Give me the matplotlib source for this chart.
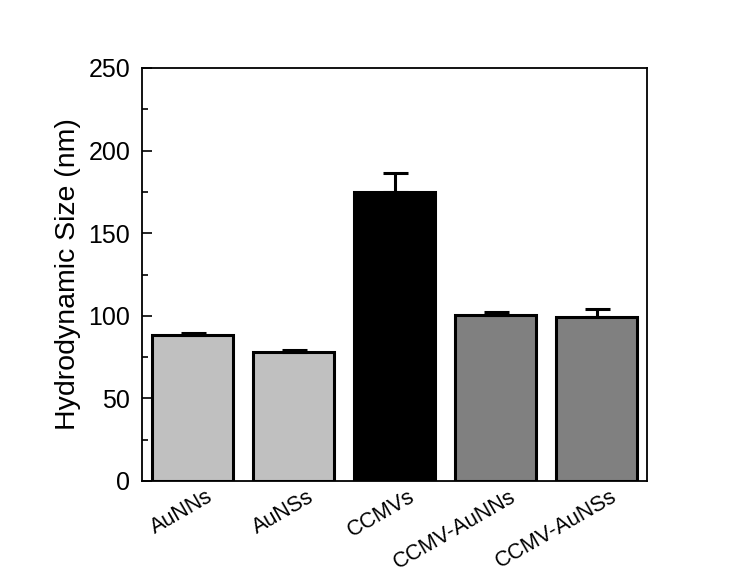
import matplotlib
matplotlib.use("Agg")
import matplotlib.pyplot as plt
from matplotlib.ticker import MultipleLocator
from matplotlib.transforms import ScaledTranslation, blended_transform_factory

plt.rcParams['font.family'] = ['Liberation Sans', 'DejaVu Sans']

# data
samples = ["AuNNs", "AuNSs", "CCMVs", "CCMV-AuNNs", "CCMV-AuNSs"]
sizes = [88.5, 78, 175, 100.5, 99.5]
errors = [1, 1, 11.5, 1.5, 4.5]
colors = ["#c0c0c0", "#c0c0c0", "#000000", "#808080", "#808080"]

fig = plt.figure(figsize=(7.37, 5.67), dpi=100)
ax = fig.add_axes([142 / 737, 1 - 481 / 567, 505 / 737, 413 / 567])

x = list(range(len(samples)))
ax.bar(x, sizes, width=0.8, color=colors, edgecolor="black", linewidth=2.2,
       yerr=[[0] * len(errors), errors],
       error_kw=dict(ecolor="black", elinewidth=2.2, capsize=9, capthick=2.2))

ax.set_xlim(-0.5, 4.5)
ax.set_ylim(0, 250)
ax.yaxis.set_major_locator(MultipleLocator(50))
ax.yaxis.set_minor_locator(MultipleLocator(25))
ax.tick_params(axis="y", which="both", direction="in", labelsize=18, pad=8.5)
ax.tick_params(axis="y", which="major", length=7, width=1.2)
ax.tick_params(axis="y", which="minor", length=4, width=1.2)
ax.set_xticks(x)
ax.set_xticklabels([])
ax.tick_params(axis="x", length=0)

# slanted category labels, right end sitting a bit right of each bar centre
trans = blended_transform_factory(ax.transData, ax.transAxes) + \
    ScaledTranslation(21 / 100, -19 / 100, fig.dpi_scale_trans)
for xi, name in zip(x, samples):
    ax.text(xi, 0, name, transform=trans, rotation=30, rotation_mode="anchor",
            ha="right", va="baseline", fontsize=15.5)

ax.set_ylabel("Hydrodynamic Size (nm)", fontsize=20.5, labelpad=5)

for s in ax.spines.values():
    s.set_linewidth(1.3)

fig.savefig("out.png", dpi=100)
